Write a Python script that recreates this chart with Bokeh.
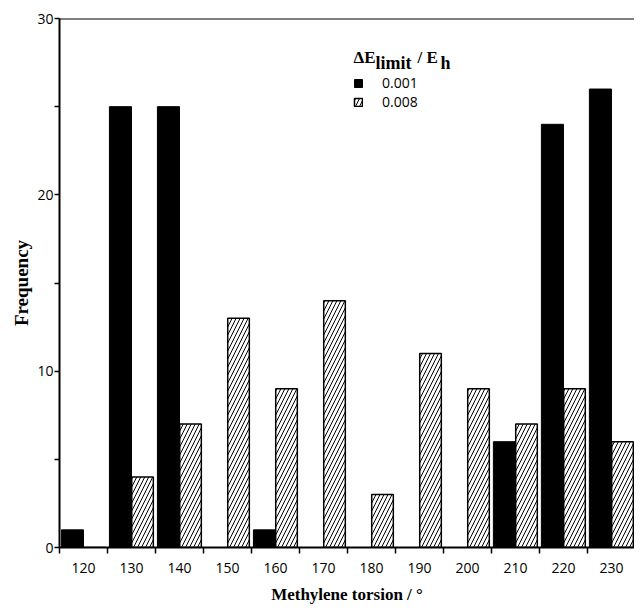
from bokeh.plotting import figure
from bokeh.models import ColumnDataSource, FixedTicker, Range1d, Legend, LegendItem, Label, Span
from bokeh.transform import dodge
from bokeh.embed import file_html
from bokeh.resources import INLINE

# ---- data ----
angles = [120, 130, 140, 150, 160, 170, 180, 190, 200, 210, 220, 230]
freq_001 = [1, 25, 25, 0, 1, 0, 0, 0, 0, 6, 24, 26]
freq_008 = [0, 4, 7, 13, 9, 14, 3, 11, 9, 7, 9, 6]
series_labels = ["0.001", "0.008"]
y_ticks = [0, 10, 20, 30]
y_minor = [5, 15, 25]

src = ColumnDataSource(dict(angle=angles, f1=freq_001, f8=freq_008))

p = figure(width=634, height=606, output_backend="svg", toolbar_location=None,
           x_range=Range1d(115, 234.8), y_range=Range1d(0, 30),
           min_border_left=59, min_border_right=0, min_border_top=18, min_border_bottom=58)
p.outline_line_color = None
p.grid.visible = False

r1 = p.vbar(x=dodge('angle', -2.3), top='f1', width=4.6, source=src,
            fill_color='black', line_color='black', line_width=1)
r2 = p.vbar(x=dodge('angle', 2.3), top='f8', width=4.5, source=src,
            fill_color='white', line_color='black', line_width=1.5,
            hatch_pattern='/', hatch_color='black', hatch_scale=8, hatch_weight=1)

tick_font = "Open Sans"

xa = p.xaxis[0]
bounds = [a - 5 for a in angles] + [angles[-1] + 5]
xa.ticker = FixedTicker(ticks=angles, minor_ticks=bounds)
xa.major_tick_out = 0
xa.major_tick_in = 0
xa.minor_tick_out = 6
xa.minor_tick_in = 0
xa.minor_tick_line_color = 'black'
xa.minor_tick_line_width = 1.5
xa.axis_line_width = 2
xa.major_label_standoff = 9
xa.major_label_text_font = tick_font
xa.major_label_text_font_size = "14px"
xa.major_label_text_color = "black"
xa.axis_label = "Methylene torsion / °"
xa.axis_label_text_font = "Liberation Serif"
xa.axis_label_text_font_style = "bold"
xa.axis_label_text_font_size = "17px"
xa.axis_label_text_color = "black"
xa.axis_label_standoff = 9

ya = p.yaxis[0]
ya.ticker = FixedTicker(ticks=y_ticks, minor_ticks=y_minor)
ya.major_tick_out = 5
ya.major_tick_in = 0
ya.minor_tick_out = 5
ya.minor_tick_in = 0
ya.major_tick_line_width = 1.5
ya.minor_tick_line_width = 1.5
ya.minor_tick_line_color = 'black'
ya.axis_line_width = 2
ya.major_label_standoff = 1
ya.major_label_text_font = tick_font
ya.major_label_text_font_size = "14px"
ya.major_label_text_color = "black"
ya.axis_label = "Frequency"
ya.axis_label_text_font = "Liberation Serif"
ya.axis_label_text_font_style = "bold"
ya.axis_label_text_font_size = "19px"
ya.axis_label_text_color = "black"
ya.axis_label_standoff = 2

p.add_layout(Span(location=30, dimension='width', line_color='black', line_width=2))

legend = Legend(items=[LegendItem(label=series_labels[0], renderers=[r1]),
                       LegendItem(label=series_labels[1], renderers=[r2])],
                location=(294, 436), border_line_color=None, background_fill_alpha=0,
                padding=0, spacing=0, margin=0, glyph_width=10, glyph_height=10,
                label_standoff=19, label_height=19,
                label_text_font="Open Sans", label_text_font_size="14px",
                label_text_color="black")
p.add_layout(legend)

title_parts = [("ΔE", 294, 490, "17px"), ("limit", 316, 485, "18px"),
               ("/ E", 358, 490, "17px"), ("h", 381, 485, "18px")]
for txt, x, y, fs in title_parts:
    p.add_layout(Label(x=x, y=y, x_units='screen', y_units='screen', text=txt,
                       text_font="Liberation Serif", text_font_style="bold",
                       text_font_size=fs, text_baseline="alphabetic", text_color="black"))

open("out.html", "w").write(file_html(p, INLINE))
